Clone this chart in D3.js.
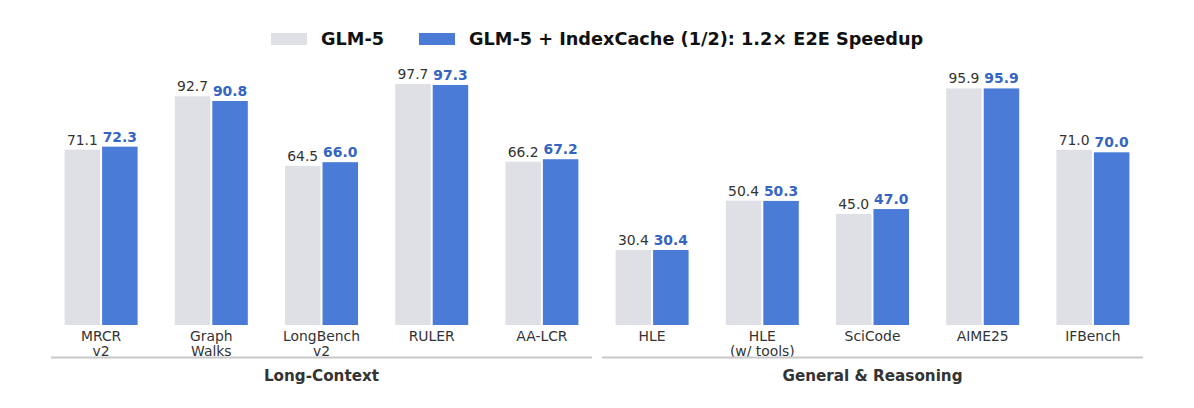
<!DOCTYPE html>
<html><head><meta charset="utf-8">
<script src="https://cdn.jsdelivr.net/npm/d3@7"></script>
<style>body{margin:0;background:#fff}svg{display:block}text{font-family:"DejaVu Sans",sans-serif}</style>
</head><body><svg id="c" width="1194" height="408"></svg>
<script>
const categories = [["MRCR","v2"],["Graph","Walks"],["LongBench","v2"],["RULER"],["AA-LCR"],["HLE"],["HLE","(w/ tools)"],["SciCode"],["AIME25"],["IFBench"]];
const seriesNames = ["GLM-5","GLM-5 + IndexCache (1/2): 1.2× E2E Speedup"];
const glm5 = [71.1,92.7,64.5,97.7,66.2,30.4,50.4,45.0,95.9,71.0];
const indexCache = [72.3,90.8,66.0,97.3,67.2,30.4,50.3,47.0,95.9,70.0];
const groups = [{name:"Long-Context",from:0,to:4},{name:"General & Reasoning",from:5,to:9}];
const colors = ["#dfe0e5","#4a7bd6"];
const labelColors = ["#333333","#3565c2"];

const svg = d3.select("#c");
const keys = categories.map((d,i)=>i);
const x = d3.scaleBand().domain(keys).range([46,1148]).paddingInner(0);
const xs = d3.scaleBand().domain([0,1]).range([-37.5,37.5]);
const y = d3.scaleLinear().domain([0,100]).range([325,78.3]);
const series = [glm5, indexCache];

series.forEach((vals,s)=>{
  const g = svg.append("g");
  g.selectAll("rect").data(vals).join("rect")
    .attr("x",(d,i)=>x(i)+x.bandwidth()/2+xs(s)+1)
    .attr("width",xs.bandwidth()-2)
    .attr("y",d=>y(d))
    .attr("height",d=>y(0)-y(d))
    .attr("fill",colors[s]);
  g.selectAll("text").data(vals).join("text")
    .attr("x",(d,i)=>x(i)+x.bandwidth()/2+xs(s)+xs.bandwidth()/2)
    .attr("y",d=>y(d)-5)
    .attr("text-anchor","middle")
    .attr("font-size",13.9)
    .attr("font-weight",s===1?"bold":"normal")
    .attr("fill",labelColors[s])
    .text(d=>d.toFixed(1));
});

// category labels
const cl = svg.append("g");
categories.forEach((lines,i)=>{
  const t = cl.append("text").attr("text-anchor","middle").attr("font-size",13.9).attr("fill","#333");
  lines.forEach((ln,j)=>{
    t.append("tspan").attr("x",x(i)+x.bandwidth()/2).attr("y",340.5+j*15).text(ln);
  });
});

// group lines and labels
groups.forEach(gp=>{
  const x0 = x(gp.from)+5, x1 = x(gp.to)+x.bandwidth()-5;
  svg.append("line").attr("x1",x0).attr("x2",x1).attr("y1",357.5).attr("y2",357.5)
    .attr("stroke","#c8c8c8").attr("stroke-width",2);
  svg.append("text").attr("x",(x0+x1)/2).attr("y",381).attr("text-anchor","middle")
    .attr("font-size",15.2).attr("font-weight","bold").attr("fill","#333").text(gp.name);
});

// legend
const lg = svg.append("g");
const legX = [271,419];
seriesNames.forEach((n,s)=>{
  lg.append("rect").attr("x",legX[s]).attr("y",33).attr("width",36).attr("height",12).attr("fill",colors[s]);
  lg.append("text").attr("x",legX[s]+50).attr("y",45).attr("font-size",17.7).attr("font-weight","bold").attr("fill","#111").text(n);
});
</script></body></html>
